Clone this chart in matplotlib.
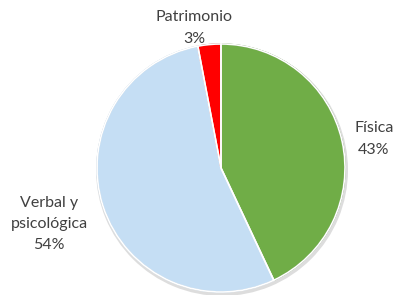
import matplotlib.pyplot as plt

# data
categories = ['Física', 'Verbal y\npsicológica', 'Patrimonio']
shares = [43, 54, 3]
colors = ['#70AD47', '#C5DEF4', '#FF0000']
edge_colors = ['#3E6B26', '#9FB8CE', '#A00000']

plt.rcParams['font.family'] = ['Lato', 'DejaVu Sans']

fig = plt.figure(figsize=(3.97, 2.95), dpi=100)
ax = fig.add_axes([0, 0, 1, 1])

cx, cy, r = 221, 295 - 168, 124

# soft shadow under the pie
ax.pie([1], radius=r + 2, center=(cx + 1, cy - 2), colors=['#DDDDDD'],
       wedgeprops=dict(linewidth=0), frame=True)

wedges, _ = ax.pie(shares, radius=r, center=(cx, cy), startangle=90,
                   counterclock=False, colors=colors, frame=True)
for w, ec in zip(wedges, edge_colors):
    w.set_edgecolor(ec)
    w.set_linewidth(1.0)

# white separators between slices
ax.pie(shares, radius=r, center=(cx, cy), startangle=90, counterclock=False,
       colors=['none'] * 3,
       wedgeprops=dict(edgecolor='white', linewidth=1.2, fill=False), frame=True)

ax.set_xlim(0, 397)
ax.set_ylim(0, 295)
ax.set_aspect('equal')
ax.axis('off')

txt = dict(color='#404040', fontsize=11.5, ha='center', va='center', linespacing=1.65)
ax.text(374, 295 - 139, f'{categories[0]}\n{shares[0]}%', **txt)
ax.text(49, 295 - 224, f'{categories[1]}\n{shares[1]}%', **txt)
ax.text(194, 295 - 28, f'{categories[2]}\n{shares[2]}%', **txt)

fig.savefig('out.png', dpi=100)
